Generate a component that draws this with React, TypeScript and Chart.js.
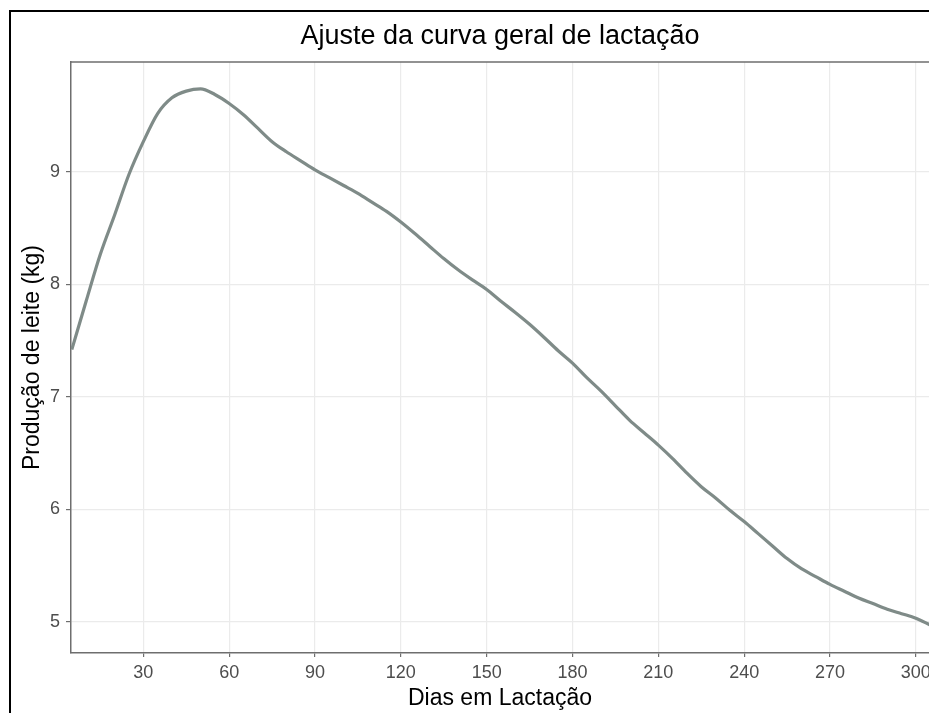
import React, { useEffect, useRef } from "react";
import { Chart, registerables } from "chart.js";

Chart.register(...registerables);

const DAYS = [
  5, 10, 15, 20, 25, 30, 35, 40, 45, 50, 55, 60, 65, 70, 75, 80, 85, 90, 95, 100,
  105, 110, 115, 120, 125, 130, 135, 140, 145, 150, 155, 160, 165, 170, 175, 180,
  185, 190, 195, 200, 205, 210, 215, 220, 225, 230, 235, 240, 245, 250, 255, 260,
  265, 270, 275, 280, 285, 290, 295, 300, 305,
];
const MILK = [
  7.42, 7.85, 8.27, 8.62, 8.98, 9.27, 9.52, 9.66, 9.72, 9.74, 9.69, 9.61, 9.51, 9.39,
  9.27, 9.18, 9.1, 9.02, 8.95, 8.88, 8.81, 8.73, 8.65, 8.555, 8.45, 8.34, 8.23, 8.13,
  8.04, 7.955, 7.85, 7.75, 7.645, 7.53, 7.41, 7.3, 7.17, 7.05, 6.92, 6.79, 6.68, 6.57,
  6.45, 6.32, 6.2, 6.1, 5.99, 5.89, 5.78, 5.67, 5.56, 5.47, 5.4, 5.33, 5.27, 5.21,
  5.16, 5.11, 5.07, 5.03, 4.97,
];
const X_TICKS = [30, 60, 90, 120, 150, 180, 210, 240, 270, 300];
const Y_TICKS = [5, 6, 7, 8, 9];

const TITLE = "Ajuste da curva geral de lactação";
const X_TITLE = "Dias em Lactação";
const Y_TITLE = "Produção de leite (kg)";

const FONT = "'Liberation Sans', Arial, sans-serif";

export default function App() {
  const ref = useRef<HTMLCanvasElement | null>(null);

  useEffect(() => {
    if (!ref.current) return;
    const panelPlugin = {
      id: "panelDecor",
      afterDraw(chart: any) {
        const { ctx, chartArea } = chart;
        ctx.save();
        ctx.strokeStyle = "#6e6e6e";
        ctx.lineWidth = 1.5;
        ctx.beginPath();
        ctx.moveTo(chartArea.left, chartArea.top);
        ctx.lineTo(chartArea.right, chartArea.top);
        ctx.stroke();
        ctx.fillStyle = "#000000";
        ctx.font = `27px ${FONT}`;
        ctx.textAlign = "center";
        ctx.textBaseline = "middle";
        ctx.fillText(TITLE, (chartArea.left + chartArea.right) / 2, 37);
        ctx.restore();
      },
    };

    const chart = new Chart(ref.current, {
      type: "line",
      data: {
        datasets: [
          {
            data: DAYS.map((d, i) => ({ x: d, y: MILK[i] })),
            borderColor: "#7f8b88",
            borderWidth: 3.2,
            pointRadius: 0,
            cubicInterpolationMode: "monotone",
            fill: false,
          },
        ],
      },
      options: {
        animation: false,
        responsive: false,
        devicePixelRatio: 1,
        layout: { padding: { top: 62, left: 0, right: 0, bottom: 0 } },
        plugins: {
          legend: { display: false },
          title: { display: false },
          tooltip: { enabled: false },
        },
        scales: {
          x: {
            type: "linear",
            min: 4.72,
            max: 304.6,
            afterBuildTicks: (s: any) => {
              s.ticks = X_TICKS.map((v) => ({ value: v }));
            },
            afterFit: (s: any) => {
              s.height = 60;
              s.paddingRight = 0;
              s.paddingLeft = 0;
            },
            grid: {
              color: "#ebebeb",
              lineWidth: 1.2,
              tickColor: "#6e6e6e",
              tickLength: 4,
              drawTicks: true,
            },
            border: { color: "#6e6e6e", width: 1.5 },
            ticks: {
              color: "#4d4d4d",
              font: { family: FONT, size: 18 },
              padding: 5,
              maxRotation: 0,
              autoSkip: false,
            },
            title: {
              display: true,
              text: X_TITLE,
              color: "#000000",
              font: { family: FONT, size: 23 },
              padding: { top: 0, bottom: 1 },
            },
          },
          y: {
            type: "linear",
            min: 4.72,
            max: 9.979,
            afterBuildTicks: (s: any) => {
              s.ticks = Y_TICKS.map((v) => ({ value: v }));
            },
            afterFit: (s: any) => {
              s.width = 71;
              s.paddingTop = 0;
              s.paddingBottom = 0;
            },
            grid: {
              color: "#ebebeb",
              lineWidth: 1.2,
              tickColor: "#6e6e6e",
              tickLength: 5,
              drawTicks: true,
            },
            border: { color: "#6e6e6e", width: 1.5 },
            ticks: {
              color: "#4d4d4d",
              font: { family: FONT, size: 18 },
              padding: 6,
              autoSkip: false,
            },
            title: {
              display: true,
              text: Y_TITLE,
              color: "#000000",
              font: { family: FONT, size: 23 },
              padding: { top: 19, bottom: 0 },
            },
          },
        },
      },
      plugins: [panelPlugin],
    } as any);

    return () => chart.destroy();
  }, []);

  return (
    <div style={{ position: "absolute", left: 0, top: 0, width: 929, height: 713, overflow: "hidden", background: "#fff" }}>
      <canvas ref={ref} width={929} height={713} style={{ position: "absolute", left: 0, top: 0, width: 929, height: 713 }} />
      <div
        style={{
          position: "absolute",
          left: 9,
          top: 10,
          width: 940,
          height: 720,
          borderLeft: "2px solid #000",
          borderTop: "2px solid #000",
          pointerEvents: "none",
        }}
      />
    </div>
  );
}
